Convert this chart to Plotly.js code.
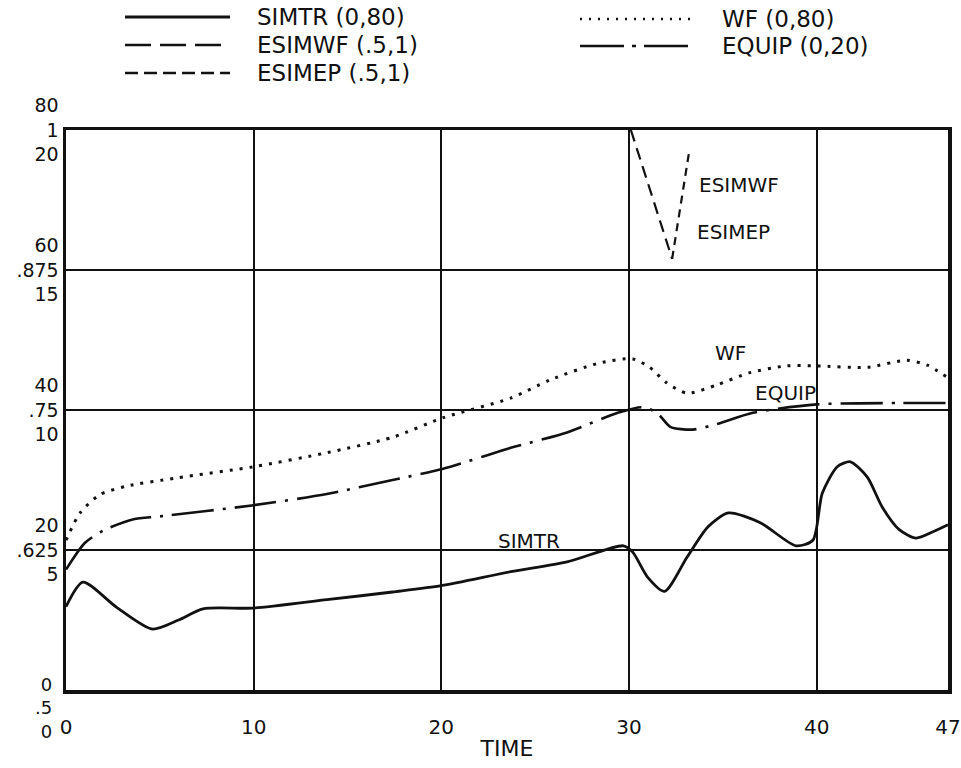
<!DOCTYPE html>
<html>
<head>
<meta charset="utf-8">
<script src="https://cdn.plot.ly/plotly-3.0.1.min.js"></script>
<style>
html,body{margin:0;padding:0;background:#fff;}
#chart{width:961px;height:768px;}
</style>
</head>
<body>
<div id="chart"></div>
<script>
// ---- data ----
// SIMTR, scale (0,80)
const simtrTime = [0, 0.9, 2.7, 4.6, 6.0, 7.3, 10.0, 13.9, 17.4, 20.0, 23.7, 26.7, 29.7, 30.2, 31.0, 31.9, 33.1, 34.2, 35.3, 37.0, 38.9, 39.8, 40.3, 41.1, 41.8, 42.7, 43.5, 44.4, 45.3, 46.2, 47.0];
const simtrVal  = [11.9, 15.4, 11.8, 8.7, 10.0, 11.6, 11.7, 12.9, 14.0, 14.9, 16.9, 18.3, 20.6, 19.7, 16.1, 14.1, 19.0, 23.3, 25.3, 23.9, 20.6, 21.4, 28.1, 31.9, 32.6, 30.4, 26.1, 22.9, 21.7, 22.6, 23.6];
// WF, scale (0,80)
const wfTime = [0, 0.75, 1.8, 3.2, 5.9, 10.0, 13.9, 17.4, 20.1, 23.7, 25.8, 28.4, 30.2, 31.1, 32.0, 33.1, 34.7, 36.4, 38.4, 40.0, 42.7, 44.8, 45.9, 47.0];
const wfVal  = [21.4, 25.3, 27.9, 29.1, 30.3, 31.9, 33.9, 36.1, 38.9, 41.7, 44.3, 46.7, 47.3, 46.1, 43.9, 42.4, 43.6, 45.3, 46.3, 46.3, 46.1, 47.1, 46.4, 44.6];
// EQUIP, scale (0,20)
const equipTime = [0, 1.0, 2.0, 3.6, 5.0, 10.0, 13.9, 17.4, 20.1, 23.7, 26.7, 29.4, 30.7, 31.5, 32.2, 33.4, 34.7, 36.6, 40.0, 44.4, 47.0];
const equipVal  = [4.3, 5.25, 5.7, 6.1, 6.2, 6.6, 7.0, 7.5, 7.9, 8.65, 9.2, 9.9, 10.1, 9.9, 9.4, 9.3, 9.5, 9.9, 10.2, 10.25, 10.25];
// ESIMWF and ESIMEP, scale (.5,1)
const esimwfTime = [30.1, 32.3];
const esimwfVal  = [1.0, 0.885];
const esimepTime = [32.3, 33.2];
const esimepVal  = [0.885, 0.98];

// axis labels
const xTickVals = [0, 10, 20, 30, 40, 47];
const xTickText = ['0', '10', '20', '30', '40', '47'];
const yTickVals = [20, 40, 60, 80];
const yTickText = ['20<br>.625<br>5', '40<br>.75<br>10', '60<br>.875<br>15', '80<br>1<br>20'];
const yBottomText = '0<br>.5<br>0';
const legendNames = ['SIMTR (0,80)', 'ESIMWF (.5,1)', 'ESIMEP (.5,1)', 'WF (0,80)', 'EQUIP (0,20)'];

// ---- map every series onto the common (0,80) plotting scale ----
const toMain80   = v => v;
const toMain20   = v => v * 4;
const toMainFrac = v => (v - 0.5) * 160;

const FONT = 'DejaVu Sans, Arial, sans-serif';
const BLACK = '#111';

const traces = [
  {x: simtrTime, y: simtrVal.map(toMain80), mode: 'lines', name: legendNames[0],
   line: {color: BLACK, width: 2.8, shape: 'spline', smoothing: 0.7}},
  {x: esimwfTime, y: esimwfVal.map(toMainFrac), mode: 'lines', name: legendNames[1],
   line: {color: BLACK, width: 2.2, dash: '12px,7px'}},
  {x: esimepTime, y: esimepVal.map(toMainFrac), mode: 'lines', name: legendNames[2],
   line: {color: BLACK, width: 2.2, dash: '8px,6px'}},
  {x: wfTime, y: wfVal.map(toMain80), mode: 'lines', name: legendNames[3],
   line: {color: BLACK, width: 3, dash: '3px,7px', shape: 'spline', smoothing: 0.7}},
  {x: equipTime, y: equipVal.map(toMain20), mode: 'lines', name: legendNames[4],
   line: {color: BLACK, width: 2.6, dash: '42px,9px,3px,9px', shape: 'spline', smoothing: 0.7}}
];

// hand-drawn style legend at the top (shape samples + text)
const L = 66, T = 130, W = 882, H = 560;
const px = p => (p - L) / W;
const py = p => (T + H - p) / H;
const legendRows = [
  {x0: 125, x1: 230, y: 17, tx: 255, dash: 'solid', w: 2.8},
  {x0: 125, x1: 230, y: 45, tx: 255, dash: '26px,9px', w: 2.6},
  {x0: 125, x1: 230, y: 73, tx: 255, dash: '13px,6px', w: 2.6},
  {x0: 580, x1: 692, y: 19, tx: 720, dash: '2px,7px', w: 2.6},
  {x0: 580, x1: 692, y: 46, tx: 720, dash: '44px,8px,4px,8px', w: 2.6}
];
const shapes = legendRows.map(r => ({
  type: 'line', xref: 'paper', yref: 'paper',
  x0: px(r.x0), x1: px(r.x1), y0: py(r.y), y1: py(r.y),
  line: {color: BLACK, width: r.w, dash: r.dash}
}));
const annotations = legendRows.map((r, i) => ({
  xref: 'paper', yref: 'paper', x: px(r.tx), y: py(r.y),
  xanchor: 'left', yanchor: 'middle', showarrow: false,
  text: legendNames[i], font: {family: FONT, size: 23, color: BLACK}
}));

// inline curve labels
const inline = [
  {t: 'ESIMWF', x: 33.6, y: 72.1},
  {t: 'ESIMEP', x: 33.5, y: 65.4},
  {t: 'WF',     x: 34.5, y: 48.2},
  {t: 'EQUIP',  x: 36.6, y: 42.5},
  {t: 'SIMTR',  x: 22.9, y: 21.3}
];
inline.forEach(a => annotations.push({
  x: a.x, y: a.y, xref: 'x', yref: 'y', xanchor: 'left', yanchor: 'middle',
  showarrow: false, text: a.t, font: {family: FONT, size: 20, color: BLACK}
}));

// bottom left stacked labels
annotations.push({
  xref: 'paper', yref: 'paper', x: 0, y: 0, xshift: -12, yshift: 18,
  xanchor: 'right', yanchor: 'top', align: 'right', showarrow: false,
  text: yBottomText, font: {family: FONT, size: 18, color: BLACK}
});

const layout = {
  width: 961, height: 768,
  margin: {l: L, r: 961 - L - W, t: T, b: 768 - T - H},
  paper_bgcolor: '#fff', plot_bgcolor: '#fff',
  showlegend: false,
  font: {family: FONT, color: BLACK},
  xaxis: {
    range: [0, 47], tickvals: xTickVals, ticktext: xTickText,
    showgrid: true, gridcolor: BLACK, gridwidth: 2,
    showline: true, mirror: true, linecolor: BLACK, linewidth: 3.5,
    zeroline: false, ticks: '', tickfont: {family: FONT, size: 20, color: BLACK},
    ticklabelstandoff: 16,
    title: {text: 'TIME', font: {family: FONT, size: 22, color: BLACK}, standoff: 4}
  },
  yaxis: {
    range: [0, 80], tickvals: yTickVals, ticktext: yTickText,
    showgrid: true, gridcolor: BLACK, gridwidth: 2,
    showline: true, mirror: true, linecolor: BLACK, linewidth: 3.5,
    zeroline: false, ticks: '', tickfont: {family: FONT, size: 19, color: BLACK},
    ticklabelstandoff: 0
  },
  shapes: shapes,
  annotations: annotations
};

Plotly.newPlot('chart', traces, layout, {displayModeBar: false, staticPlot: true});
</script>
</body>
</html>
